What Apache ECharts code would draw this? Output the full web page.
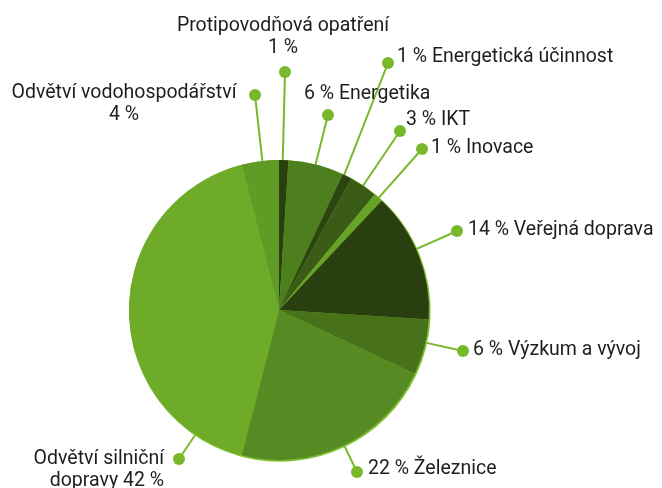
<!DOCTYPE html>
<html>
<head>
<meta charset="utf-8">
<script src="https://cdn.jsdelivr.net/npm/echarts@6/dist/echarts.min.js"></script>
<style>
html, body { margin: 0; padding: 0; background: #fff; }
#main { width: 662px; height: 488px; }
</style>
</head>
<body>
<div id="main"></div>
<script>
var names = ['Protipovodňová opatření', 'Energetika', 'Energetická účinnost', 'IKT', 'Inovace',
  'Veřejná doprava', 'Výzkum a vývoj', 'Železnice', 'Odvětví silniční dopravy', 'Odvětví vodohospodářství'];
var values = [1, 6, 1, 3, 1, 14, 6, 22, 42, 4];
var colors = ['#283f0f', '#4e7f1e', '#2c4510', '#3b5c16', '#67a327',
  '#2a3f10', '#47721a', '#568a22', '#6eab29', '#5f9b25'];

// where each leader line ends (its dot) and where its text sits
var dotPos = [[285, 72], [328, 115], [388, 63], [400, 131], [422, 149],
  [457, 231], [463, 351], [357, 472], [179, 459], [255, 95]];
var textPos = [[283, 37, 'center'], [304, 94, 'left'], [397, 57, 'left'], [406, 120, 'left'], [431, 148, 'left'],
  [468, 230, 'left'], [473, 350, 'left'], [368, 469, 'left'], [164, 470, 'right'], [124, 104, 'center']];
var textKind = ['below', 'before', 'before', 'before', 'before', 'before', 'before', 'before', 'wrap', 'below'];

var CX = 279, CY = 310, R = 150;
var LINE = '#78b82a';
var RIM = '#7dbd30';

var total = 0;
for (var i = 0; i < values.length; i++) total += values[i];
var fStart = [], fEnd = [], acc = 0;
for (var j = 0; j < values.length; j++) {
  fStart.push(acc / total);
  acc += values[j];
  fEnd.push(acc / total);
}

// point on the slice rim, as close as possible to the direction of the dot
function edgePoint(k) {
  var d = dotPos[k];
  var a = Math.atan2(d[0] - CX, CY - d[1]);
  if (a < 0) a += Math.PI * 2;
  var a0 = fStart[k] * Math.PI * 2, a1 = fEnd[k] * Math.PI * 2;
  var m = Math.min(0.01, (a1 - a0) / 3);
  a = Math.max(a0 + m, Math.min(a1 - m, a));
  return [CX + R * Math.sin(a), CY - R * Math.cos(a)];
}

function labelText(k) {
  var v = values[k] + ' %';
  if (textKind[k] == 'below') return names[k] + '\n' + v;
  if (textKind[k] == 'wrap') {
    var p = names[k].lastIndexOf(' ');
    return names[k].slice(0, p) + '\n' + names[k].slice(p + 1) + ' ' + v;
  }
  return v + ' ' + names[k];
}

var data = [];
for (var n = 0; n < names.length; n++) {
  data.push({ name: names[n], value: values[n], itemStyle: { color: colors[n] } });
}
var ghost = [];
for (var g = 0; g < names.length; g++) {
  ghost.push({ name: names[g], value: values[g] });
}

var chart = echarts.init(document.getElementById('main'));
chart.setOption({
  animation: false,
  series: [{
    // light rim under the pie + leader lines with their dots
    type: 'pie',
    silent: true,
    center: [CX + 0.8, CY + 0.9],
    radius: R + 0.8,
    avoidLabelOverlap: false,
    itemStyle: { color: RIM, borderWidth: 0 },
    label: {
      show: true,
      position: 'outside',
      overflow: 'none',
      formatter: '{d|}',
      rich: { d: { width: 12, height: 12, borderRadius: 6, backgroundColor: LINE } }
    },
    labelLine: { show: true, lineStyle: { color: LINE, width: 2 } },
    labelLayout: function (p) {
      var d = dotPos[p.dataIndex];
      return {
        x: d[0], y: d[1], align: 'center', verticalAlign: 'middle',
        labelLinePoints: [edgePoint(p.dataIndex), [d[0], d[1]]]
      };
    },
    data: ghost
  }, {
    type: 'pie',
    silent: true,
    center: [CX, CY],
    radius: R,
    avoidLabelOverlap: false,
    itemStyle: { borderWidth: 0 },
    label: {
      show: true,
      position: 'outside',
      overflow: 'none',
      color: '#1e1e1e',
      fontFamily: 'Roboto',
      fontSize: 19.5,
      lineHeight: 22,
      formatter: function (p) { return labelText(p.dataIndex); }
    },
    labelLine: { show: false },
    labelLayout: function (p) {
      var t = textPos[p.dataIndex];
      return { x: t[0], y: t[1], align: t[2], verticalAlign: 'middle' };
    },
    data: data
  }]
});
</script>
</body>
</html>
